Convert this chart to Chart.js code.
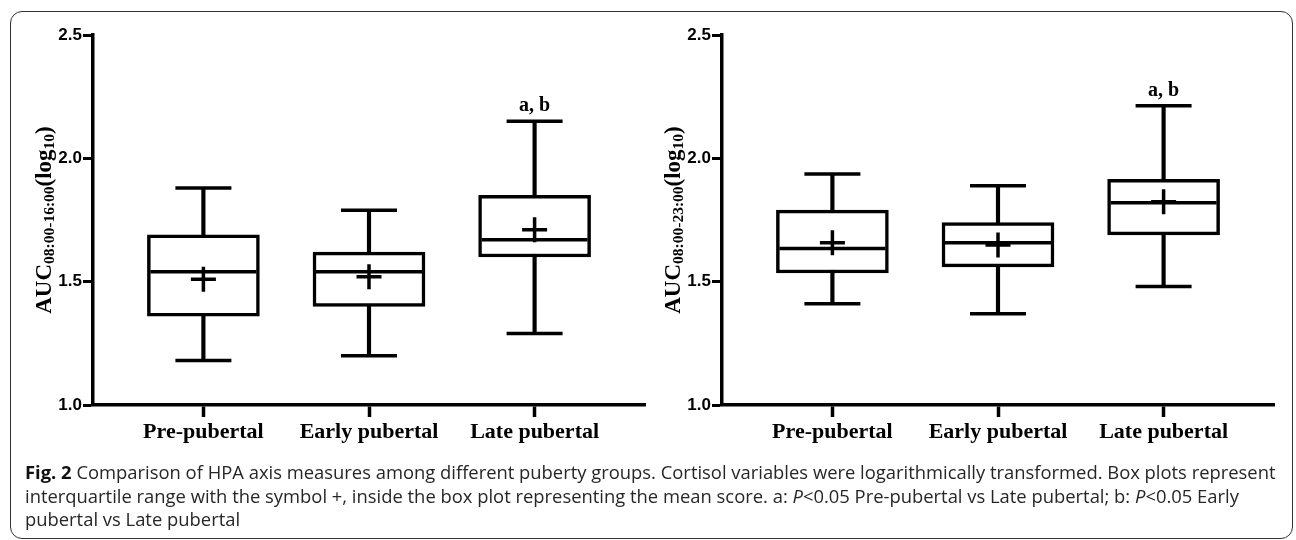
<!DOCTYPE html>
<html>
<head>
<meta charset="utf-8">
<script src="https://cdn.jsdelivr.net/npm/chart.js@4"></script>
<style>
  html, body { margin:0; padding:0; background:#fff; width:1296px; height:540px; overflow:hidden; }
  .frame { position:absolute; left:10px; top:11px; width:1283px; height:528px; box-sizing:border-box;
           border:1.5px solid #333; border-radius:12px; }
  .chartbox { position:absolute; top:0; width:650px; height:460px; }
  #c1 { left:0; }
  #c2 { left:629px; }
  #cap { position:absolute; left:25px; top:460px; font-family:"Open Sans", sans-serif; font-size:18.4px;
         line-height:23.7px; color:#262626; white-space:nowrap; }
  #cap b { font-weight:700; color:#111; }
</style>
</head>
<body>
<div class="frame"></div>
<div class="chartbox" id="c1"><canvas id="chart1" width="650" height="460"></canvas></div>
<div class="chartbox" id="c2"><canvas id="chart2" width="650" height="460"></canvas></div>
<div id="cap">
  <div><b>Fig. 2</b> Comparison of HPA axis measures among different puberty groups. Cortisol variables were logarithmically transformed. Box plots represent</div>
  <div>interquartile range with the symbol +, inside the box plot representing the mean score. a: <i>P</i>&lt;0.05 Pre-pubertal vs Late pubertal; b: <i>P</i>&lt;0.05 Early</div>
  <div>pubertal vs Late pubertal</div>
</div>
<script>
// ---------- data ----------
const categories = ['Pre-pubertal', 'Early pubertal', 'Late pubertal'];
const yTicks = [1.0, 1.5, 2.0, 2.5];
const annotations = ['', '', 'a, b'];

// AUC 08:00-16:00 (log10)
const min1    = [1.18, 1.20, 1.29];
const q1_1    = [1.36, 1.40, 1.60];
const median1 = [1.54, 1.54, 1.67];
const q3_1    = [1.69, 1.62, 1.85];
const max1    = [1.88, 1.79, 2.15];
const mean1   = [1.51, 1.52, 1.71];
const title1  = [['AUC', 0], ['08:00-16:00', 1], ['(log', 0], ['10', 1], [')', 0]];

// AUC 08:00-23:00 (log10)
const min2    = [1.41, 1.37, 1.48];
const q1_2    = [1.535, 1.56, 1.69];
const median2 = [1.634, 1.658, 1.82];
const q3_2    = [1.79, 1.74, 1.915];
const max2    = [1.936, 1.889, 2.213];
const mean2   = [1.658, 1.649, 1.824];
const title2  = [['AUC', 0], ['08:00-23:00', 1], ['(log', 0], ['10', 1], [')', 0]];

// ---------- plugins ----------
const yTitlePlugin = {
  id: 'yTitle',
  afterDraw(chart, args, opts) {
    const { ctx, chartArea } = chart;
    const segs = opts.segments || [];
    const mainF = 'bold 23px "Liberation Serif", "Times New Roman", serif';
    const subF = 'bold 15.5px "Liberation Serif", "Times New Roman", serif';
    ctx.save();
    let total = 0;
    const widths = segs.map(s => { ctx.font = s[1] ? subF : mainF; const w = ctx.measureText(s[0]).width; total += w; return w; });
    ctx.translate(chartArea.left - 42, (chartArea.top + chartArea.bottom) / 2);
    ctx.rotate(-Math.PI / 2);
    ctx.fillStyle = '#000';
    ctx.textAlign = 'left';
    ctx.textBaseline = 'alphabetic';
    let x = -total / 2;
    segs.forEach((s, i) => { ctx.font = s[1] ? subF : mainF; ctx.fillText(s[0], x, s[1] ? 3 : 0); x += widths[i]; });
    ctx.restore();
  }
};

const annotPlugin = {
  id: 'annot',
  afterDatasetsDraw(chart, args, opts) {
    const { ctx } = chart;
    const xs = chart.scales.x, ys = chart.scales.y;
    ctx.save();
    ctx.font = 'bold 20px "Liberation Serif", "Times New Roman", serif';
    ctx.fillStyle = '#000';
    ctx.textAlign = 'center';
    ctx.textBaseline = 'alphabetic';
    (opts.labels || []).forEach((t, i) => {
      if (!t) return;
      ctx.fillText(t, xs.getPixelForValue(i), ys.getPixelForValue(opts.tops[i]) - 10);
    });
    ctx.restore();
  }
};

function makeChart(id, mins, q1s, meds, q3s, maxs, means, title) {
  const pts = arr => arr.map((v, i) => ({ x: i, y: v }));
  return new Chart(document.getElementById(id), {
    type: 'bar',
    data: {
      datasets: [
        { // IQR box
          type: 'bar', order: 1, grouped: false,
          data: categories.map((c, i) => ({ x: i, y: [q1s[i], q3s[i]] })),
          backgroundColor: '#fff', borderColor: '#000', borderWidth: 3.5, borderSkipped: false,
          barThickness: 112
        },
        { // whiskers
          type: 'bar', order: 3, grouped: false,
          data: categories.map((c, i) => ({ x: i, y: [mins[i], maxs[i]] })),
          backgroundColor: '#000', borderWidth: 0, barThickness: 3.5
        },
        { // whisker caps (max)
          type: 'scatter', order: 0, data: pts(maxs), clip: false,
          pointStyle: 'line', pointRadius: 28, borderWidth: 3.5, borderColor: '#000', backgroundColor: '#000'
        },
        { // whisker caps (min)
          type: 'scatter', order: 0, data: pts(mins), clip: false,
          pointStyle: 'line', pointRadius: 28, borderWidth: 3.5, borderColor: '#000', backgroundColor: '#000'
        },
        { // median
          type: 'scatter', order: 0, data: pts(meds), clip: false,
          pointStyle: 'line', pointRadius: 53, borderWidth: 3.5, borderColor: '#000', backgroundColor: '#000'
        },
        { // mean "+"
          type: 'scatter', order: 0, data: pts(means), clip: false,
          pointStyle: 'cross', pointRadius: 12.5, borderWidth: 3.5, borderColor: '#000', backgroundColor: '#000'
        }
      ]
    },
    options: {
      responsive: false,
      animation: false,
      events: [],
      layout: { autoPadding: false, padding: { left: 0, right: 5, top: 35, bottom: 0 } },
      plugins: {
        legend: { display: false },
        tooltip: { enabled: false },
        yTitle: { segments: title },
        annot: { labels: annotations, tops: maxs }
      },
      scales: {
        x: {
          type: 'linear', min: -2 / 3, max: 2 + 2 / 3, offset: false,
          grid: { display: true, drawOnChartArea: false, drawTicks: true, tickLength: 12, tickWidth: 3.5,
                  tickColor: '#000', color: '#000', offset: false },
          border: { display: true, color: '#000', width: 3.5 },
          afterBuildTicks: s => { s.ticks = categories.map((c, i) => ({ value: i })); },
          afterFit: s => { s.height = 55; },
          ticks: {
            autoSkip: false, maxRotation: 0, padding: 2, color: '#000',
            font: { family: '"Liberation Serif", "Times New Roman", serif', size: 22, weight: 'bold' },
            callback: v => categories[v]
          }
        },
        y: {
          type: 'linear', min: yTicks[0], max: yTicks[yTicks.length - 1],
          grid: { display: true, drawOnChartArea: false, drawTicks: true, tickLength: 10, tickWidth: 3,
                  tickColor: '#000', color: '#000' },
          border: { display: true, color: '#000', width: 3.5 },
          afterBuildTicks: s => { s.ticks = yTicks.map(v => ({ value: v })); },
          afterFit: s => { s.width = 93; },
          ticks: {
            padding: 1, color: '#000',
            font: { family: '"Liberation Sans", Arial, sans-serif', size: 17, weight: 'bold' },
            callback: v => Number(v).toFixed(1)
          }
        }
      }
    },
    plugins: [yTitlePlugin, annotPlugin]
  });
}

makeChart('chart1', min1, q1_1, median1, q3_1, max1, mean1, title1);
makeChart('chart2', min2, q1_2, median2, q3_2, max2, mean2, title2);
</script>
</body>
</html>
